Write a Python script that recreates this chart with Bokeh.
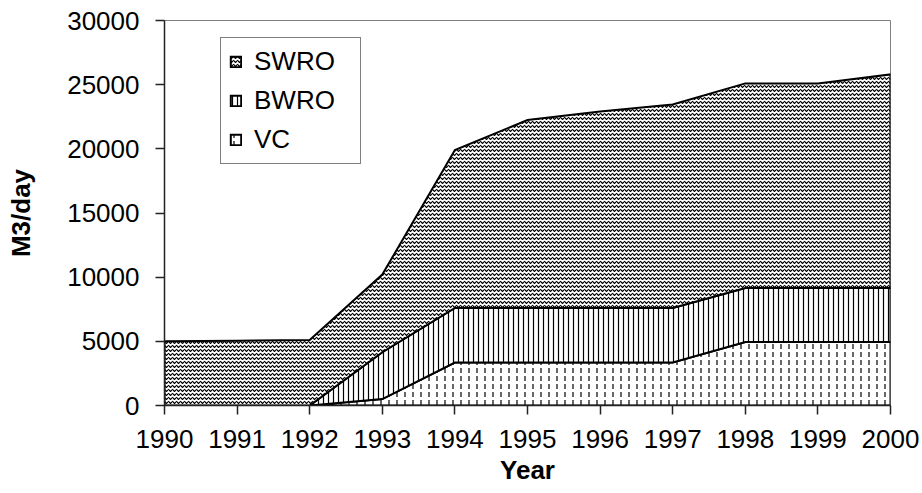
import numpy as np
from bokeh.plotting import figure
from bokeh.models import FixedTicker, Legend, LegendItem, Range1d
from bokeh.embed import file_html
from bokeh.resources import INLINE

years = [1990, 1991, 1992, 1993, 1994, 1995, 1996, 1997, 1998, 1999, 2000]
vc = [0, 0, 0, 500, 3350, 3350, 3350, 3350, 4950, 4950, 4950]
bwro = [0, 0, 0, 3650, 4250, 4250, 4250, 4250, 4200, 4200, 4200]
swro = [5000, 5050, 5100, 6050, 12300, 14650, 15300, 15850, 15950, 15950, 16650]
series_names = ["VC", "BWRO", "SWRO"]
y_ticks = [0, 5000, 10000, 15000, 20000, 25000, 30000]

FONT = "Liberation Sans"

p = figure(width=922, height=493, output_backend="svg", toolbar_location=None,
           x_range=Range1d(1990, 2000), y_range=Range1d(0, 30000),
           min_border_left=164, min_border_right=32, min_border_top=20,
           min_border_bottom=88)
p.grid.visible = False
p.background_fill_color = "white"
p.border_fill_color = "white"
p.outline_line_color = "#808080"
p.outline_line_width = 1

x = np.array(years, dtype=float)
layers = [np.array(vc, float), np.array(bwro, float), np.array(swro, float)]
hatches = [dict(hatch_pattern="vertical_dash", hatch_scale=8, hatch_weight=1.2),
           dict(hatch_pattern="vertical_line", hatch_scale=5, hatch_weight=1.2),
           dict(hatch_pattern="horizontal_wave", hatch_scale=4, hatch_weight=1.2)]

bottom = np.zeros_like(x)
renderers = []
for name, vals, h in zip(series_names, layers, hatches):
    top = bottom + vals
    px = np.concatenate([x, x[::-1]])
    py = np.concatenate([top, bottom[::-1]])
    r = p.patch(px, py, fill_color="white", hatch_color="black",
                line_color="black", line_width=2, line_join="miter", **h)
    renderers.append((name, r))
    bottom = top

items = [LegendItem(label=n, renderers=[r]) for n, r in reversed(renderers)]
legend = Legend(items=items, location=(56, 241), orientation="vertical")
legend.label_text_font = FONT
legend.label_text_font_size = "26px"
legend.label_text_color = "black"
legend.label_height = 30
legend.glyph_width = 13
legend.glyph_height = 13
legend.spacing = 8
legend.padding = 8
legend.label_standoff = 12
legend.label_width = 98
legend.border_line_color = "black"
legend.border_line_width = 1
legend.background_fill_alpha = 1
legend.margin = 0
p.add_layout(legend, "center")

for ax in (p.xaxis[0], p.yaxis[0]):
    ax.axis_line_color = "#222222"
    ax.axis_line_width = 1.5
    ax.major_tick_line_color = "#222222"
    ax.major_tick_line_width = 1.5
    ax.major_tick_in = 0
    ax.major_tick_out = 9
    ax.minor_tick_line_color = None
    ax.major_label_text_font = FONT
    ax.major_label_text_font_size = "26px"
    ax.major_label_text_color = "black"
    ax.axis_label_text_font = FONT
    ax.axis_label_text_font_size = "26px"
    ax.axis_label_text_font_style = "bold"
    ax.axis_label_text_color = "black"

p.xaxis.ticker = FixedTicker(ticks=years)
p.yaxis.ticker = FixedTicker(ticks=y_ticks)
p.xaxis.axis_label = "Year"
p.yaxis.axis_label = "M3/day"
p.xaxis.major_label_standoff = 15
p.yaxis.major_label_standoff = 16
p.xaxis.axis_label_standoff = 4
p.yaxis.axis_label_standoff = 28

open("out.html", "w").write(file_html(p, INLINE))
